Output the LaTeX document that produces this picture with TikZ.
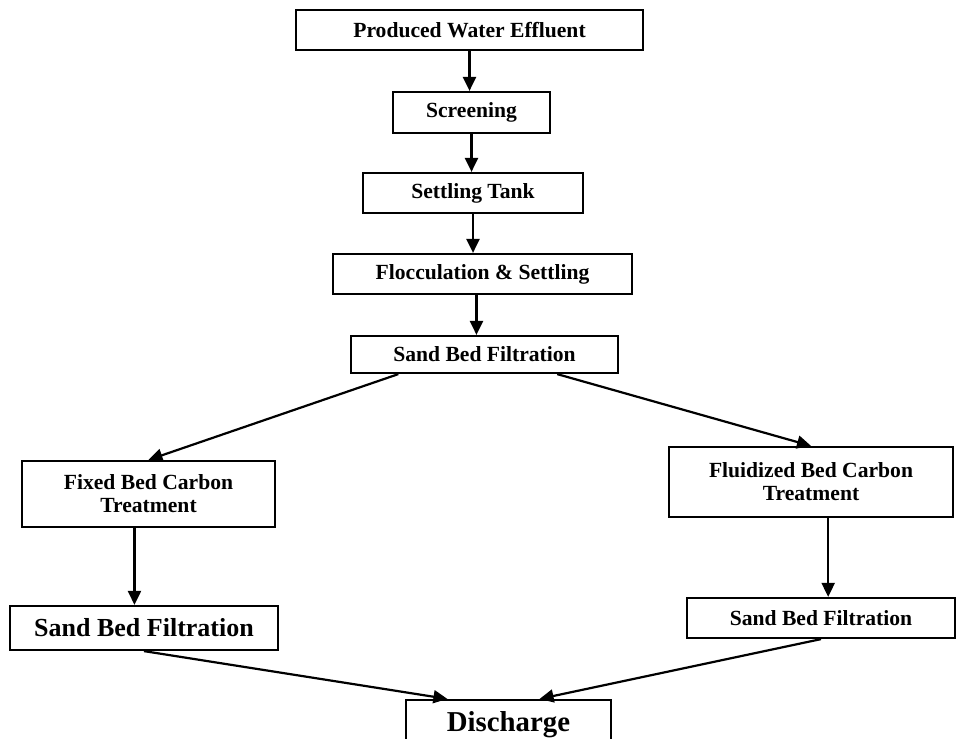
\documentclass[tikz,border=0pt]{standalone}
\usepackage{fontspec}
\setmainfont{Liberation Serif}
\usetikzlibrary{shapes,arrows.meta,calc}

\begin{document}
\begin{tikzpicture}[x=0.5pt,y=0.5pt]
        \tikzstyle{stage}=[draw=black, line width=1.1pt, inner sep=0pt, align=center, font=\bfseries\fontsize{10.8}{11.5}\selectfont]
        \tikzstyle{bigstage}=[stage, font=\bfseries\fontsize{13}{15}\selectfont]
        \tikzstyle{flow}=[black, line width=1.1pt, -{Triangle[length=7pt,width=6.5pt]}]
        \clip (0,0) rectangle (961,-738);
        \fill [white] (0,0) rectangle (961,-738);
        \node [stage, minimum width=173.5pt, minimum height=20pt] (produced) at (469.5,-30) {Produced Water Effluent};
        \node [stage, minimum width=78.5pt, minimum height=20.5pt] (screening) at (471.5,-112.5) {Screening};
        \node [stage, minimum width=110pt, minimum height=20pt] (settling) at (473,-193) {Settling Tank};
        \node [stage, minimum width=149.5pt, minimum height=20pt] (floc) at (482.5,-274) {Flocculation \& Settling};
        \node [stage, minimum width=133.5pt, minimum height=18.5pt] (sandA) at (484.5,-354.5) {Sand Bed Filtration};
        \node [stage, minimum width=126.5pt, minimum height=33pt] (fixed) at (148.5,-494) {Fixed Bed Carbon\\Treatment};
        \node [stage, minimum width=142pt, minimum height=35pt] (fluid) at (811,-482) {Fluidized Bed Carbon\\Treatment};
        \node [bigstage, minimum width=134pt, minimum height=22pt] (sandL) at (144,-628) {Sand Bed Filtration};
        \node [stage, minimum width=134pt, minimum height=20pt] (sandR) at (821,-618) {Sand Bed Filtration};
        \node [bigstage, font=\bfseries\fontsize{14.4}{16}\selectfont, minimum width=102.5pt, minimum height=25pt] (discharge) at (508.5,-725) {Discharge};
        \draw [flow] (produced.south) -- (produced.south |- screening.north);
        \draw [flow] (screening.south) -- (screening.south |- settling.north);
        \draw [flow] (settling.south) -- (settling.south |- floc.north);
        \draw [flow] ($(floc.south west)!0.48!(floc.south east)$) coordinate (fl) -- (fl |- sandA.north);
        \draw [flow] ($(sandA.south west)!0.18!(sandA.south east)$) -- (fixed.north);
        \draw [flow] ($(sandA.south west)!0.77!(sandA.south east)$) -- (fluid.north);
        \draw [flow] ($(fixed.south west)!0.445!(fixed.south east)$) coordinate (fx) -- (fx |- sandL.north);
        \draw [flow] ($(fluid.south west)!0.56!(fluid.south east)$) coordinate (fd) -- (fd |- sandR.north);
        \draw [flow] (sandL.south) -- ($(discharge.north west)!0.205!(discharge.north east)$);
        \draw [flow] (sandR.south) -- ($(discharge.north west)!0.65!(discharge.north east)$);
\end{tikzpicture}
\end{document}
